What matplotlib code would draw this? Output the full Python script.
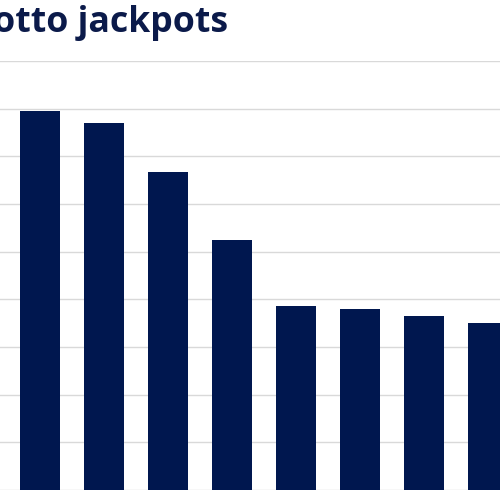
import matplotlib.pyplot as plt
import numpy as np

# jackpot sizes (millions)
ranks = np.arange(8)
jackpots = [79.6, 77.0, 66.8, 52.5, 38.5, 38.0, 36.5, 35.1]
grid_ticks = np.arange(0, 100, 10)

navy = "#00174f"

fig = plt.figure(figsize=(5, 4.99), dpi=100)
ax = fig.add_axes([0, 9 / 499, 1, 429 / 499])

ax.bar(ranks, jackpots, width=0.625, color=navy, zorder=2)

ax.set_xlim(-0.625, 7.1875)
ax.set_ylim(0, 90)
ax.set_yticks(grid_ticks)
ax.yaxis.grid(True, color="#d9d9d9", linewidth=1)
ax.tick_params(left=False, bottom=False, labelleft=False, labelbottom=False)
for side in ax.spines:
    ax.spines[side].set_visible(False)

# title is cut off at the left edge, as in the source
fig.text(228 / 500, 1 - 32 / 499, "Lotto jackpots", ha="right", va="baseline",
         fontsize=25.7, fontweight="bold", family="Open Sans", color="#0b1a4a")

fig.savefig("out.png", dpi=100)
